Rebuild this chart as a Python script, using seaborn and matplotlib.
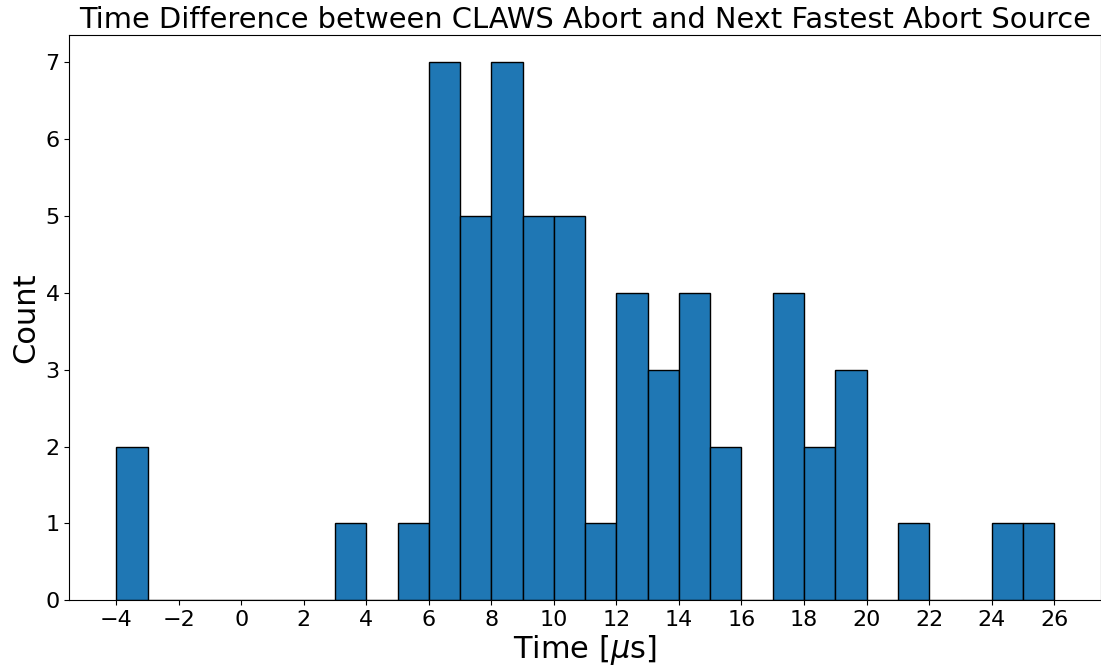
import numpy as np
import pandas as pd
import matplotlib
matplotlib.use("Agg")
import matplotlib.pyplot as plt
import seaborn as sns

# Histogram bins (1 µs wide) and the number of events in each
bin_start, bin_stop = -4, 26
bin_counts = [2, 0, 0, 0, 0, 0, 0, 1, 0, 1,
              7, 5, 7, 5, 5, 1, 4, 3, 4, 2,
              0, 4, 2, 3, 0, 1, 0, 0, 1, 1]
x_ticks = list(range(-4, 27, 2))

df = pd.DataFrame({
    "time": np.arange(bin_start, bin_stop) + 0.5,
    "count": bin_counts,
})

sns.set_style("ticks")
plt.rcParams["font.family"] = ["DejaVu Sans"]
plt.rcParams.update({
    "text.color": "black",
    "axes.labelcolor": "black",
    "xtick.color": "black",
    "ytick.color": "black",
    "axes.edgecolor": "black",
})

fig = plt.figure(figsize=(11.01, 6.65), dpi=100)
ax = fig.add_axes([0.063, 0.097, 0.937, 0.851])

sns.histplot(data=df, x="time", weights="count", binwidth=1,
             binrange=(bin_start, bin_stop), ax=ax,
             color="#1f77b4", alpha=1.0, edgecolor="black", linewidth=1.0)

ax.set_xticks(x_ticks)
ax.tick_params(labelsize=16)
ax.set_xlabel("Time [$\\mu$s]", fontsize=22, labelpad=2)
ax.set_ylabel("Count", fontsize=22)
ax.set_title("Time Difference between CLAWS Abort and Next Fastest Abort Source",
             fontsize=20.8, pad=5)
ax.margins(x=0.05, y=0.05)

fig.savefig("out.png", dpi=100)
